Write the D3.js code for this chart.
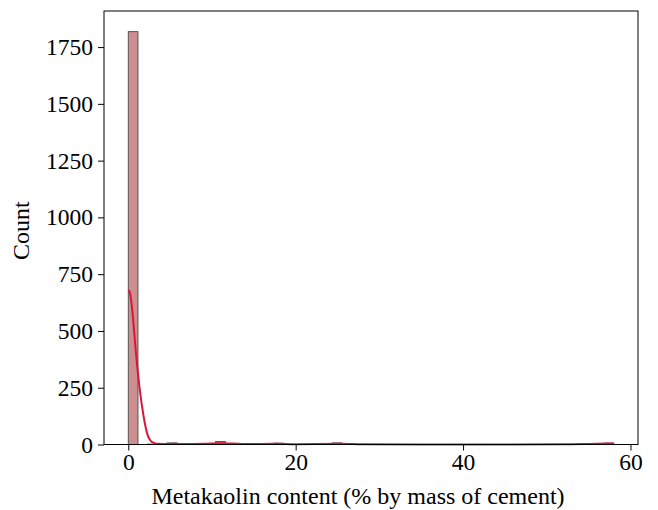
<!DOCTYPE html>
<html>
<head>
<meta charset="utf-8">
<script src="https://cdn.jsdelivr.net/npm/d3@7"></script>
<style>
  body { margin: 0; background: #fff; }
  svg text { font-family: "Liberation Serif", "Times New Roman", serif; fill: #000; }
</style>
</head>
<body>
<svg id="chart" width="658" height="510"></svg>
<script>
// histogram: 50 bins of equal width starting at 0
var binWidth = 1.16;
var binCounts = [
  1818, 0, 2, 0, 7, 0, 0, 0, 0, 13,
  0, 0, 0, 0, 0, 6, 0, 0, 0, 0,
  0, 7, 0, 0, 0, 0, 0, 0, 0, 0,
  0, 0, 0, 0, 0, 0, 0, 0, 0, 0,
  0, 0, 0, 0, 0, 0, 0, 0, 0, 6
];

// kde line
var kdeX = [0, 0.2, 0.4, 0.6, 0.84, 1.04, 1.24, 1.5, 1.76, 2.05, 2.35, 2.7, 3.15, 3.6, 4.5, 5.5, 7, 9, 11, 12.5, 14, 17.5, 20, 25.5, 28, 35, 45, 52, 55, 57.5, 58];
var kdeY = [680, 668, 618, 543, 435, 355, 285, 205, 140, 80, 38, 15, 6, 3, 2, 3, 2, 3, 5, 4, 2, 3, 1.5, 3, 1, 0.3, 0.5, 1, 2.5, 4, 4];

var xTicks = [0, 20, 40, 60];
var yTicks = [0, 250, 500, 750, 1000, 1250, 1500, 1750];

var margin = {left: 104, right: 20, top: 11, bottom: 65.5};
var width = 658 - margin.left - margin.right;
var height = 510 - margin.top - margin.bottom;

var svg = d3.select('#chart');
var g = svg.append('g')
  .attr('transform', 'translate(' + margin.left + ',' + margin.top + ')');

var xMax = binCounts.length * binWidth;
var pad = xMax * 0.05;
var x = d3.scaleLinear().domain([-pad, xMax + pad]).range([0, width]);
var y = d3.scaleLinear().domain([0, d3.max(binCounts) * 1.05]).range([height, 0]);

var bins = binCounts.map(function(c, i) {
  return {x0: i * binWidth, x1: (i + 1) * binWidth, count: c};
}).filter(function(d) { return d.count > 0; });

g.selectAll('.bar')
  .data(bins)
  .enter().append('rect')
    .attr('class', 'bar')
    .attr('x', function(d) { return x(d.x0); })
    .attr('width', function(d) { return x(d.x1) - x(d.x0); })
    .attr('y', function(d) { return y(d.count); })
    .attr('height', function(d) { return y(0) - y(d.count); })
    .attr('fill', '#cc8e8e')
    .attr('stroke', '#4a4a4a')
    .attr('stroke-width', 0.9);

var line = d3.line()
  .x(function(d) { return x(d[0]); })
  .y(function(d) { return y(d[1]); })
  .curve(d3.curveMonotoneX);

g.append('path')
  .datum(d3.zip(kdeX, kdeY))
  .attr('d', line)
  .attr('fill', 'none')
  .attr('stroke', '#dc143c')
  .attr('stroke-width', 2);

// axes
var xAxis = g.append('g')
  .attr('transform', 'translate(0,' + height + ')')
  .call(d3.axisBottom(x).tickValues(xTicks).tickSize(6).tickPadding(3).tickFormat(d3.format('d')));
var yAxis = g.append('g')
  .call(d3.axisLeft(y).tickValues(yTicks).tickSize(6).tickPadding(5).tickFormat(d3.format('d')));

[xAxis, yAxis].forEach(function(a) {
  a.select('.domain').remove();
  a.selectAll('.tick line').attr('stroke', '#000').attr('stroke-width', 1);
  a.selectAll('.tick text').style('font-size', '23.5px');
});

g.append('rect')
  .attr('width', width)
  .attr('height', height)
  .attr('fill', 'none')
  .attr('stroke', '#000')
  .attr('stroke-width', 1);

g.append('text')
  .attr('x', 358 - margin.left)
  .attr('y', height + 59)
  .attr('text-anchor', 'middle')
  .style('font-size', '24px')
  .text('Metakaolin content (% by mass of cement)');

g.append('text')
  .attr('transform', 'translate(' + (-75) + ',' + (height / 2 + 3) + ') rotate(-90)')
  .attr('text-anchor', 'middle')
  .style('font-size', '24px')
  .text('Count');
</script>
</body>
</html>
